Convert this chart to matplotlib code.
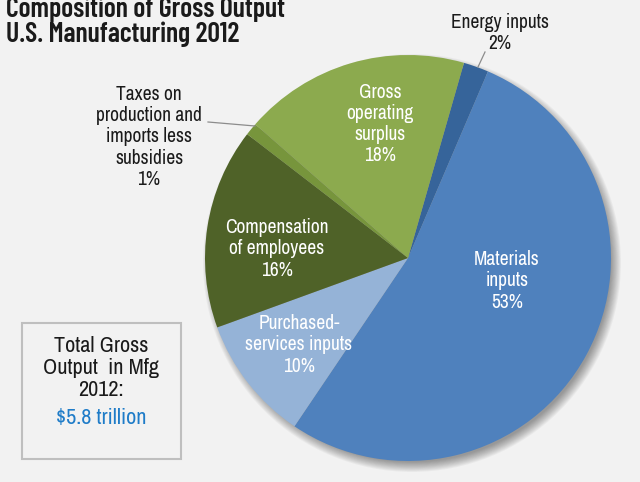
import matplotlib
matplotlib.use("Agg")
import matplotlib.pyplot as plt
from matplotlib.patches import Circle, Rectangle

plt.rcParams['font.family'] = ['Archivo Narrow', 'Liberation Sans', 'DejaVu Sans']
TITLE_FONT = ['Barlow Condensed', 'Archivo Narrow', 'DejaVu Sans']

# Shares of gross output, clockwise from the top
categories = ["Energy inputs", "Materials inputs", "Purchased-services inputs",
              "Compensation of employees", "Taxes on production and imports less subsidies",
              "Gross operating surplus"]
shares = [2, 53, 10, 16, 1, 18]
colors = ["#36649a", "#4f81bd", "#95b3d7", "#4f6228", "#77953c", "#8caa4e"]

W, H = 640, 482
BG = "#f2f2f2"

fig = plt.figure(figsize=(W / 100, H / 100), dpi=100, facecolor=BG)
ax = fig.add_axes([0, 0, 1, 1])


def px(x, y):
    return x, H - y


cx, cy = px(408, 258)
R = 203

# soft drop shadow under the pie
for i in range(12):
    ax.add_patch(Circle((cx + 4, cy - 5), R + 6 - i * 0.9, facecolor='#000000',
                        alpha=0.035, edgecolor='none', zorder=1))

wedges, _ = ax.pie(shares, colors=colors, startangle=74, counterclock=False,
                   center=(cx, cy), radius=R, frame=True,
                   wedgeprops=dict(linewidth=0))
for w in wedges:
    w.set_zorder(2)
ax.set_xlim(0, W)
ax.set_ylim(0, H)
ax.set_aspect('equal')
ax.axis('off')

lab = dict(ha='center', va='center', fontsize=14, linespacing=1.15, zorder=5)

ax.text(*px(507, 281), "Materials\ninputs\n53%", color='white', **lab)
ax.text(*px(380, 124), "Gross\noperating\nsurplus\n18%", color='white', **lab)
ax.text(*px(277, 249), "Compensation\nof employees\n16%", color='white', **lab)
ax.text(*px(299, 345), "Purchased-\nservices inputs\n10%", color='white', **lab)

ax.text(*px(500, 33), "Energy inputs\n2%", color='#1a1a1a', **lab)
ax.text(*px(149, 137), "Taxes on\nproduction and\nimports less\nsubsidies\n1%",
        color='#1a1a1a', **lab)

# leader lines
ax.plot(*zip(px(485, 52), px(478, 67)), color='#8c8c8c', lw=0.9, zorder=4)
ax.plot(*zip(px(208, 122), px(255, 126)), color='#8c8c8c', lw=0.9, zorder=4)

# title (second line baseline near the top margin, first line partly above)
ax.text(*px(6, 42), "Composition of Gross Output\nU.S. Manufacturing 2012",
        ha='left', va='baseline', fontsize=20, fontweight='semibold', family=TITLE_FONT,
        color='#1a1a1a', linespacing=0.98)

# total box
x0, y0 = px(22, 459)
ax.add_patch(Rectangle((x0, y0), 159, 136, facecolor=BG, edgecolor='#bfbfbf',
                       lw=1.5, zorder=3))
ax.text(*px(101, 368), "Total Gross\nOutput  in Mfg\n2012:", color='#1a1a1a',
        ha='center', va='center', fontsize=16, linespacing=1.12, zorder=5)
ax.text(*px(101, 418), "$5.8 trillion", color='#1f7cc8',
        ha='center', va='center', fontsize=16, zorder=5)

fig.savefig("out.png", dpi=100, facecolor=BG)
